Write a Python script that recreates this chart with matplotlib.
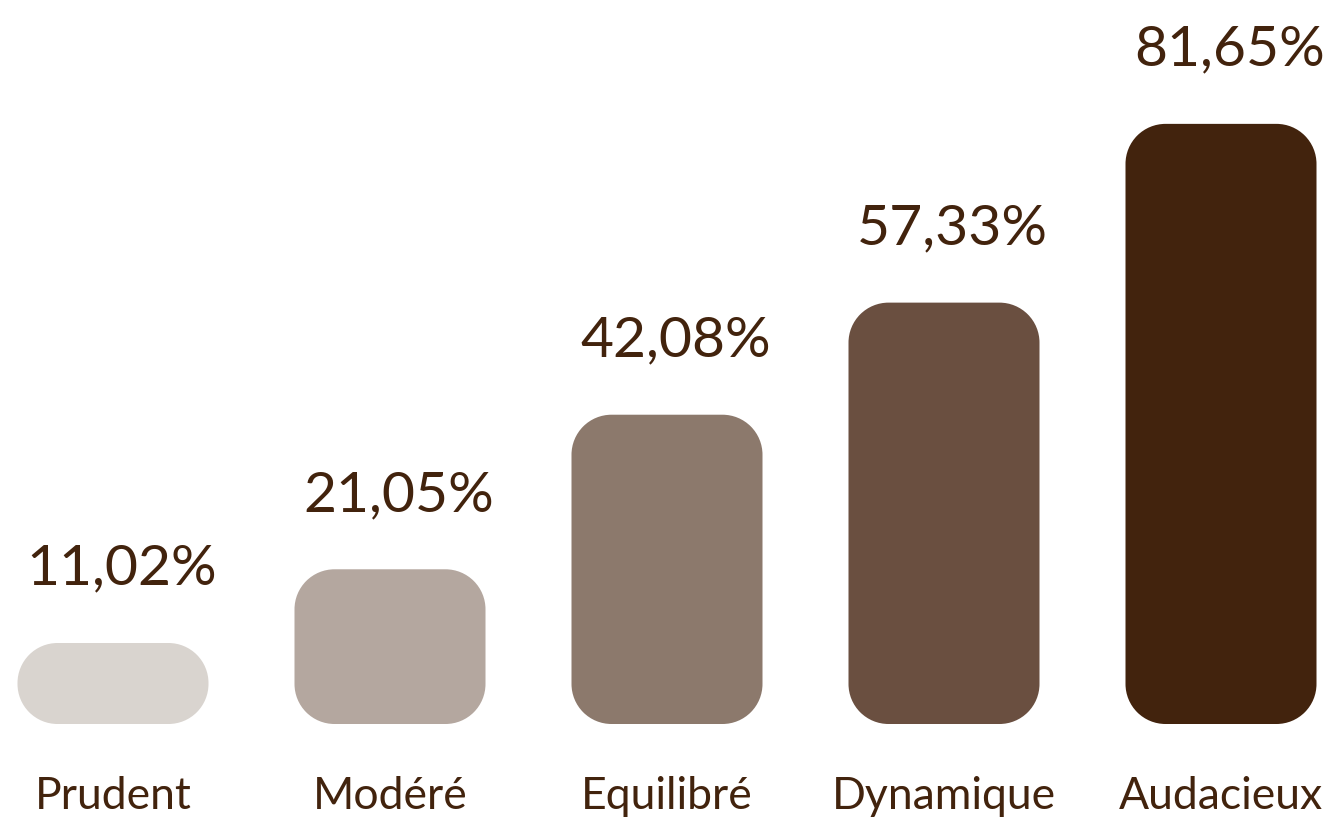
import matplotlib.pyplot as plt
from matplotlib.path import Path
from matplotlib.patches import PathPatch

categories = ['Prudent', 'Modéré', 'Equilibré', 'Dynamique', 'Audacieux']
values = [11.02, 21.05, 42.08, 57.33, 81.65]
value_labels = ['11,02%', '21,05%', '42,08%', '57,33%', '81,65%']
colors = ['#D9D4CF', '#B4A79F', '#8C796C', '#6A4F40', '#42230D']
text_color = '#42230D'

plt.rcParams['font.family'] = ['Lato', 'DejaVu Sans']


def rounded_rect(x, y, w, h, rx, ry):
    # rectangle with true circular-arc corners (rx, ry in data units)
    verts, codes = [], []
    corners = [(x + w - rx, y + ry, 270, 360), (x + w - rx, y + h - ry, 0, 90),
               (x + rx, y + h - ry, 90, 180), (x + rx, y + ry, 180, 270)]
    for cx, cy, t1, t2 in corners:
        arc = Path.arc(t1, t2)
        v = arc.vertices * [rx, ry] + [cx, cy]
        c = list(arc.codes)
        if verts:
            c[0] = Path.LINETO
        verts.extend(v.tolist())
        codes.extend(c)
    verts.append(verts[0])
    codes.append(Path.CLOSEPOLY)
    return Path(verts, codes)


W, H = 1334, 821
fig = plt.figure(figsize=(W / 100, H / 100), dpi=100)
base = 97                      # baseline, px from bottom
px_per_x = 277.0
px_per_y = 7.35
ax = fig.add_axes([0, base / H, 1, (H - base) / H])
ax.set_xlim(-113 / px_per_x, (W - 113) / px_per_x)
ax.set_ylim(0, (H - base) / px_per_y)
ax.axis('off')

bars = ax.bar(range(len(values)), values, width=191 / px_per_x, color=colors)

# swap the plain bars for rounded ones
radius_px = 40
for b, c in zip(bars, colors):
    r = min(radius_px, b.get_height() * px_per_y / 2)
    p = rounded_rect(b.get_x(), b.get_y(), b.get_width(), b.get_height(),
                     r / px_per_x, r / px_per_y)
    ax.add_patch(PathPatch(p, facecolor=c, edgecolor='none'))
    b.remove()

for i, (v, lab) in enumerate(zip(values, value_labels)):
    ax.annotate(lab, (i, v), xytext=(6, 42), textcoords='offset points',
                ha='center', va='baseline', fontsize=41,
                color=text_color)
    ax.annotate(categories[i], (i, 0), xytext=(0, -61), textcoords='offset points',
                ha='center', va='baseline', fontsize=32,
                color=text_color, annotation_clip=False)

fig.savefig('out.png', dpi=100, facecolor='white')
